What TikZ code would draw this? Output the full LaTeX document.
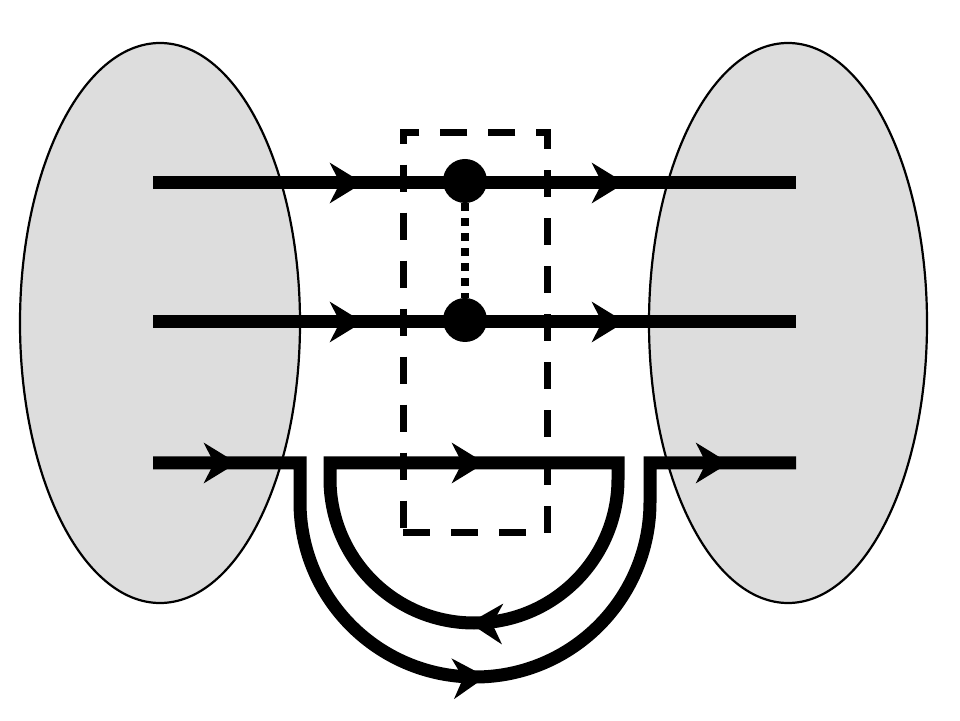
\documentclass[tikz,border=0pt]{standalone}
\usetikzlibrary{arrows.meta,decorations.markings,shapes.geometric}
\begin{document}
\begin{tikzpicture}[x=1pt,y=1pt,
  region/.style={ellipse,draw=black,line width=2.2pt,fill={rgb,255:red,221;green,221;blue,221},inner sep=0pt,minimum width=280pt,minimum height=560pt},
  dot/.style={circle,fill=black,inner sep=0pt,minimum size=44pt},
  flow/.style={line width=13pt,line join=miter,line cap=butt},
  boxline/.style={draw=black,line width=6.5pt,dash pattern=on 27pt off 21pt}
]
\def\tipA{\arrow{Stealth[length=33pt,width=40pt,inset=10pt]}}
\useasboundingbox (0,0) rectangle (960,720);
% regions
\node[region] (L) at (160,397) {};
\node[region,minimum width=278pt] (R) at (788,397) {};
% dashed box
\node[boxline,inner sep=0pt,minimum width=144pt,minimum height=400pt,anchor=south west] (box) at (400,184) {};
% dots
\node[dot] (d1) at (465,539) {};
\node[dot] (d2) at (465,400) {};
% end points
\coordinate (a1) at (153,537);
\coordinate (b1) at (796,537);
\coordinate (a2) at (153,398);
\coordinate (b2) at (796,398);
\coordinate (a3) at (153,257);
\coordinate (b3) at (796,257);
% top and middle lines
\draw[flow,postaction={decorate},decoration={markings,
  mark=at position 210pt with {\tipA},
  mark=at position 472pt with {\tipA}}]
  (a1) -- (b1);
\draw[flow,postaction={decorate},decoration={markings,
  mark=at position 210pt with {\tipA},
  mark=at position 472pt with {\tipA}}]
  (a2) -- (b2);
% dotted link
\draw[line width=8pt,dash pattern=on 8pt off 7pt] (d1.south) -- (d2.north);
% outer loop path
\draw[flow,postaction={decorate},decoration={markings,
  mark=at position 84pt with {\tipA},
  mark=at position 472pt with {\tipA},
  mark=at position 854pt with {\tipA}}]
  (a3) -- (300,257) -- (300,218) arc[start angle=180,end angle=360,radius=175] -- (650,257) -- (b3);
% inner loop
\draw[flow,postaction={decorate},decoration={markings,
  mark=at position 155pt with {\tipA},
  mark=at position 535pt with {\tipA}}]
  (330,257) -- (618,257) -- (618,241) arc[start angle=0,end angle=-180,radius=144] -- cycle;
\end{tikzpicture}
\end{document}
